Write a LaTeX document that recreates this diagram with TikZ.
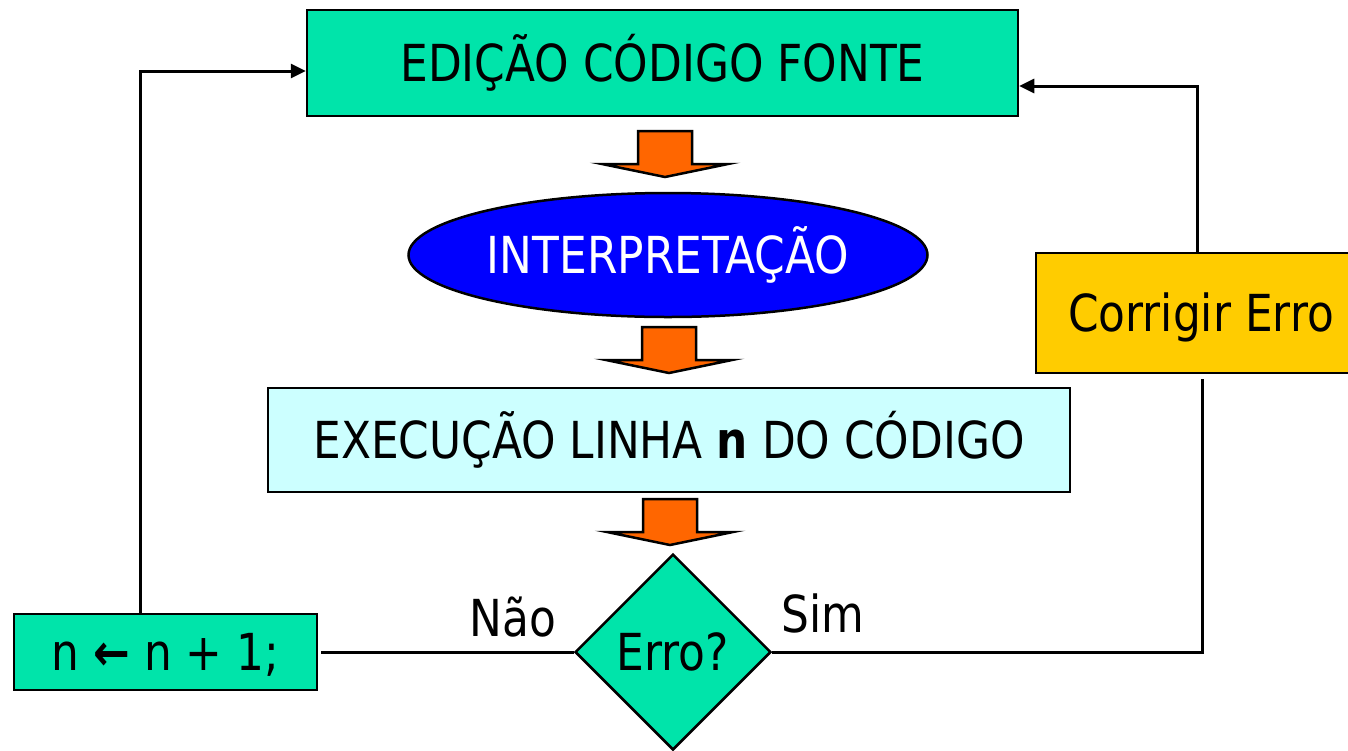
\documentclass[tikz,border=0pt]{standalone}
\usepackage{fontspec}
\setmainfont{DejaVu Sans}[FakeStretch=0.86]
\usetikzlibrary{shapes.geometric,arrows.meta}
\definecolor{boxgreen}{HTML}{00E4AA}
\definecolor{boxyellow}{HTML}{FFCC00}
\definecolor{boxcyan}{HTML}{CCFFFF}
\definecolor{arrorange}{HTML}{FF6600}
\definecolor{ellblue}{HTML}{0000FF}
\newcommand{\orangearrow}[2]{%
  \draw[blockarrow] (#1-27,#2) -- (#1+27,#2) -- (#1+27,#2+33) -- (#1+63,#2+33)
    -- (#1,#2+46) -- (#1-63,#2+33) -- (#1-27,#2+33) -- cycle;}
\begin{document}
\begin{tikzpicture}[x=1pt,y=-1pt,
  txt/.style={inner sep=0pt, text height=37pt, text depth=0pt,
    font=\fontsize{51}{60}\selectfont},
  box/.style={txt, draw, line width=2.5pt},
  conn/.style={line width=3pt},
  tip/.style={-{Triangle[length=15pt,width=14pt]}},
  blockarrow/.style={draw, fill=arrorange, line width=2.5pt, line join=miter}]
\useasboundingbox (0,0) rectangle (1348,750);
\fill[white] (0,0) rectangle (1348,750);

\node[box, fill=boxgreen, minimum width=711pt, minimum height=106pt] (edicao) at (662.5,63) {EDIÇÃO CÓDIGO FONTE};
\node[box, ellipse, fill=ellblue, text=white, minimum width=519pt, minimum height=124pt] (interp) at (668,255) {INTERPRETAÇÃO};
\node[box, fill=boxcyan, minimum width=802pt, minimum height=104pt] (exec) at (669,440) {EXECUÇÃO LINHA \textbf{n} DO CÓDIGO};
\node[box, diamond, fill=boxgreen, minimum width=196pt, minimum height=196pt] (erro) at (673,652) {Erro?};
\node[box, fill=boxgreen, minimum width=303pt, minimum height=76pt] (inc) at (165.5,652) {n \textbf{←} n + 1;};
\node[box, fill=boxyellow, minimum width=330pt, minimum height=120pt] (corr) at (1201,313) {Corrigir Erro};

\node[txt] (nao) at (513,618) {Não};
\node[txt] (sim) at (823,614) {Sim};

\orangearrow{665}{131}
\orangearrow{669}{327}
\orangearrow{670}{499}

\draw[conn, shorten >=3pt] (erro.west) -- (inc.east);
\draw[conn, tip] ([xshift=-25pt]inc.north) |- ([yshift=-8pt]edicao.west);
\draw[conn] (erro.east) -| ([xshift=1pt,yshift=-5pt]corr.south);
\draw[conn, tip] ([xshift=-4pt]corr.north) |- ([yshift=-23pt]edicao.east);
\end{tikzpicture}
\end{document}
